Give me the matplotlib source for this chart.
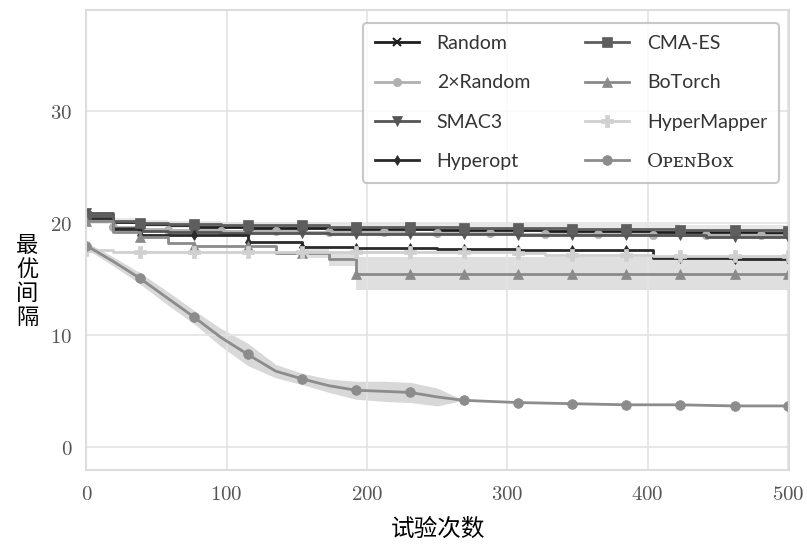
import matplotlib
matplotlib.use('Agg')
import matplotlib.pyplot as plt
import numpy as np

# Numero de avaliacoes (grade comum a todas as curvas).
trials = [0, 19, 38, 58, 77, 96, 115, 135, 154, 173, 192, 212, 231, 250,
          269, 288, 308, 327, 346, 365, 385, 404, 423, 442, 462, 481, 500]

random_1x = [20.6, 20.1, 19.9, 19.8, 19.7, 19.7, 19.6, 19.6, 19.6, 19.5, 19.5, 19.5, 19.5, 19.4,
             19.4, 19.4, 19.4, 19.3, 19.3, 19.3, 19.3, 19.2, 19.2, 19.2, 19.2, 19.1, 19.1]
random_2x = [20.3, 19.7, 19.5, 19.4, 19.4, 19.3, 19.3, 19.3, 19.2, 19.2, 19.2, 19.2, 19.1, 19.1,
             19.1, 19.1, 19.0, 19.0, 19.0, 19.0, 19.0, 18.9, 18.9, 18.9, 18.9, 18.9, 18.9]
smac3 = [20.9, 19.6, 19.3, 19.2, 19.2, 19.1, 19.1, 19.1, 19.1, 19.0, 19.0, 19.0, 19.0, 19.0,
         19.0, 19.0, 18.9, 18.9, 18.9, 18.9, 18.9, 18.9, 18.9, 18.8, 18.8, 18.8, 18.8]
hyperopt = [20.5, 19.5, 18.9, 18.9, 18.9, 18.9, 18.35, 18.35, 17.9, 17.9, 17.8, 17.8, 17.8, 17.7,
            17.7, 17.7, 17.6, 17.6, 17.6, 17.6, 17.6, 16.9, 16.9, 16.9, 16.8, 16.8, 16.8]
cmaes = [20.6, 20.2, 20.0, 19.9, 19.9, 19.8, 19.8, 19.8, 19.8, 19.7, 19.7, 19.7, 19.7, 19.7,
         19.6, 19.6, 19.6, 19.6, 19.5, 19.5, 19.5, 19.5, 19.4, 19.4, 19.4, 19.4, 19.3]
botorch = [20.2, 19.2, 18.8, 18.2, 18.0, 18.0, 18.0, 17.3, 17.3, 16.8, 15.5, 15.5, 15.5, 15.5,
           15.5, 15.5, 15.5, 15.5, 15.5, 15.5, 15.5, 15.5, 15.5, 15.5, 15.5, 15.5, 15.5]
hypermapper = [17.6, 17.4, 17.4, 17.4, 17.4, 17.4, 17.4, 17.4, 17.4, 17.4, 17.4, 17.4, 17.4, 17.4,
               17.4, 17.4, 17.3, 17.2, 17.2, 17.2, 17.2, 17.1, 17.1, 17.1, 17.1, 17.1, 17.1]
openbox = [18.0, 16.6, 15.1, 13.3, 11.6, 9.8, 8.3, 6.8, 6.1, 5.5, 5.1, 5.0, 4.9, 4.5,
           4.2, 4.1, 4.0, 3.95, 3.9, 3.85, 3.8, 3.8, 3.8, 3.75, 3.7, 3.7, 3.7]

# Meia largura das faixas sombreadas.
openbox_err = [0.3, 0.4, 0.5, 0.6, 0.6, 0.8, 1.0, 0.6, 0.5, 0.6, 0.8, 0.9, 0.9, 0.8,
               0, 0, 0, 0, 0, 0, 0, 0, 0, 0, 0, 0, 0]
botorch_err = [0, 0, 0, 0, 0, 0, 0, 0, 0.4, 0.6, 1.5, 1.5, 1.5, 1.5,
               1.5, 1.5, 1.5, 1.5, 1.5, 1.5, 1.5, 1.5, 1.5, 1.5, 1.5, 1.5, 1.5]
cmaes_err = [0.3, 0.3, 0.3, 0.3, 0.3, 0.3, 0.3, 0.3, 0.3, 0.3, 0.3, 0.3, 0.3, 0.3,
             0.3, 0.3, 0.3, 0.3, 0.4, 0.4, 0.4, 0.4, 0.4, 0.4, 0.4, 0.4, 0.4]

plt.rcParams['mathtext.fontset'] = 'cm'

series = [
    ('Random', random_1x, '#1e1e1e', 'x', 0, 6),
    ('2×Random', random_2x, '#b0b0b0', 'o', (1, 2), 6),
    ('SMAC3', smac3, '#555555', 'v', 0, 7),
    ('Hyperopt', hyperopt, '#2a2a2a', 'd', 0, 5),
    ('CMA-ES', cmaes, '#5e5e5e', 's', 0, 7),
    ('BoTorch', botorch, '#8a8a8a', '^', 0, 7),
    ('HyperMapper', hypermapper, '#d0d0d0', 'P', 0, 8),
    ('OᴘᴇɴBᴏx', openbox, '#8c8c8c', 'o', 0, 7),
]

fig = plt.figure(figsize=(8.07, 5.6), dpi=100)
ax = fig.add_axes([0.107, 0.161, 0.871, 0.821])

x = np.array(trials)
ax.fill_between(x, np.array(cmaes) - cmaes_err, np.array(cmaes) + cmaes_err,
                color='#d8d8d8', alpha=0.6, lw=0, step='post')
ax.fill_between(x, np.array(botorch) - botorch_err, np.array(botorch) + botorch_err,
                color='#d8d8d8', alpha=0.8, lw=0, step='post')
ax.fill_between(x, np.array(openbox) - openbox_err, np.array(openbox) + openbox_err,
                color='#cfcfcf', alpha=0.8, lw=0)

for nome, valores, cor, marcador, marcas, tam in series:
    estilo = 'default' if nome.startswith('O') else 'steps-post'
    ax.plot(x, valores, color=cor, marker=marcador, markevery=(marcas if marcas else 2),
            markersize=tam, lw=2, drawstyle=estilo, label=nome,
            markeredgewidth=1.5 if marcador == 'x' else 0.5)

ax.set_xlim(0, 501)
ax.set_ylim(-2, 39)
ax.set_xticks([0, 100, 200, 300, 400, 500], labels=[f'${t}$' for t in [0, 100, 200, 300, 400, 500]])
ax.set_yticks([0, 10, 20, 30], labels=[f'${t}$' for t in [0, 10, 20, 30]])
ax.tick_params(length=0, labelsize=15, labelcolor='#555555', pad=10)
ax.grid(True, color='#e3e3e3', lw=1.2)
for s in ax.spines.values():
    s.set_color('#dddddd')
    s.set_linewidth(1.5)

ax.set_xlabel('试验次数', fontsize=17, family=['Noto Sans CJK SC', 'DejaVu Sans'], labelpad=10)
ax.set_ylabel('最\n优\n间\n隔', fontsize=16, family=['Noto Sans CJK SC', 'DejaVu Sans'],
              rotation=0, va='center', ha='center', linespacing=1.05)
ax.yaxis.set_label_coords(-0.084, 0.41)

leg = ax.legend(ncol=2, loc='upper right', frameon=True, fancybox=True,
                handlelength=2.3, handletextpad=0.9, columnspacing=2.8, labelspacing=1.15,
                borderpad=0.6, borderaxespad=0, bbox_to_anchor=(0.985, 0.971),
                prop={'family': ['Lato', 'DejaVu Sans'], 'size': 14})
leg.get_frame().set_edgecolor('#bbbbbb')
leg.get_frame().set_linewidth(1.5)
for t in leg.get_texts():
    t.set_color('#333333')
leg.get_texts()[7].set_family(['DejaVu Serif', 'DejaVu Sans'])

plt.savefig('out.png', dpi=100)
plt.close()
